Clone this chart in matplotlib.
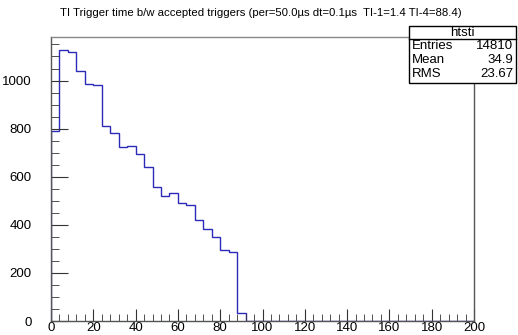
import matplotlib.pyplot as plt
import numpy as np

plt.rcParams["font.family"] = ["Liberation Sans", "DejaVu Sans"]

# histogram "htsti": 4 us bins from 0 to 200
bin_edges = np.arange(0, 204, 4)
counts = [790, 1129, 1119, 1040, 986, 981, 811, 782, 722, 729, 696, 639,
          559, 518, 533, 491, 483, 419, 384, 351, 297, 288, 33]
values = np.zeros(len(bin_edges) - 1)
values[:len(counts)] = counts

title = "TI Trigger time b/w accepted triggers (per=50.0\u00b5s dt=0.1\u00b5s  TI-1=1.4 TI-4=88.4)"
stats_name = "htsti"
stats_rows = [("Entries", "14810"), ("Mean", "34.9"), ("RMS", "23.67")]

W, H = 518, 335
fig = plt.figure(figsize=(W / 100, H / 100), dpi=100)
ax = fig.add_axes([51 / W, 14 / H, 423 / W, 284 / H])

ax.stairs(values, bin_edges, color="#2b2bb8", linewidth=1.0)

ax.set_xlim(0, 200)
ax.set_ylim(0, 1181)
ax.set_xticks(np.arange(0, 201, 20))
ax.set_xticks(np.arange(0, 201, 4), minor=True)
ax.set_yticks(np.arange(0, 1001, 200))
ax.set_yticks(np.arange(0, 1181, 50), minor=True)

for s in ax.spines.values():
    s.set_color("#555555")
    s.set_linewidth(1.0)
ax.spines["top"].set_color("#888888")

ax.tick_params(axis="both", which="both", direction="in", colors="#333333",
               labelsize=9.5, labelcolor="black")
ax.tick_params(axis="y", which="major", length=12, pad=14)
ax.tick_params(axis="y", which="minor", length=6)
ax.tick_params(axis="x", which="major", length=9, pad=0.5)
ax.tick_params(axis="x", which="minor", length=5)

fig.text(261 / W, 1 - 13 / H, title, ha="center", va="center", fontsize=8.2)

# stats box
bx0, bx1 = 409, 516
by0, bsep, by1 = 26, 39, 83
fig.patches.append(plt.Rectangle((bx0 / W, 1 - by1 / H), (bx1 - bx0) / W,
                                 (by1 - by0) / H, transform=fig.transFigure,
                                 facecolor="white", edgecolor="black",
                                 linewidth=1.0, zorder=5))
fig.lines.append(plt.Line2D([bx0 / W, bx1 / W], [1 - bsep / H, 1 - bsep / H],
                            transform=fig.transFigure, color="black",
                            linewidth=1.0, zorder=6))
fig.text((bx0 + bx1) / 2 / W, 1 - (by0 + bsep) / 2 / H, stats_name,
         ha="center", va="center", fontsize=9.5, zorder=7)
row_y = [46, 60, 74]
for (lab, val), yy in zip(stats_rows, row_y):
    fig.text((bx0 + 3) / W, 1 - yy / H, lab, ha="left", va="center",
             fontsize=9.5, zorder=7)
    fig.text((bx1 - 3) / W, 1 - yy / H, val, ha="right", va="center",
             fontsize=9.5, zorder=7)

fig.savefig("out.png", dpi=100)
